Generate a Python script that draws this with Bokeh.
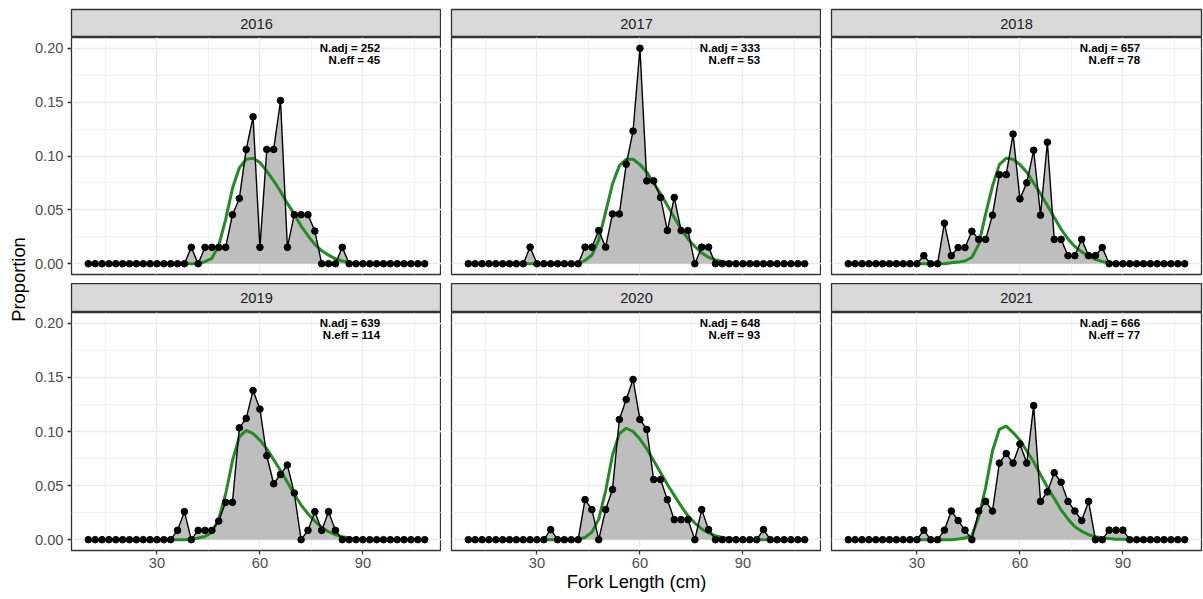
import numpy as np
from bokeh.plotting import figure
from bokeh.layouts import row, column
from bokeh.models import Range1d, FixedTicker, PrintfTickFormatter
from bokeh.core.properties import value
from bokeh.embed import file_html
from bokeh.resources import INLINE

# ---------------- data ----------------
lengths = [10, 12, 14, 16, 18, 20, 22, 24, 26, 28,
           30, 32, 34, 36, 38, 40, 42, 44, 46, 48,
           50, 52, 54, 56, 58, 60, 62, 64, 66, 68,
           70, 72, 74, 76, 78, 80, 82, 84, 86, 88,
           90, 92, 94, 96, 98, 100, 102, 104, 106, 108]

years = ["2016", "2017", "2018", "2019", "2020", "2021"]

obs_2016 = [0]*15 + [0.0152, 0, 0.0152, 0.0152, 0.0152, 0.0152,
            0.0455, 0.0606, 0.1061, 0.1364, 0.0152, 0.1061, 0.1061, 0.1515,
            0.0152, 0.0455, 0.0455, 0.0455, 0.0303, 0, 0, 0, 0.0152] + [0]*12
obs_2017 = [0]*9 + [0.0154] + [0]*7 + [0.0154, 0.0154, 0.0308, 0.0154, 0.0462,
            0.0462, 0.0923, 0.1231, 0.2000, 0.0769, 0.0769, 0.0615, 0.0308,
            0.0615, 0.0308, 0.0308, 0, 0.0154, 0.0154] + [0]*14
obs_2018 = [0]*11 + [0.0075, 0, 0, 0.0376, 0.0075, 0.0150, 0.0150, 0.0301,
            0.0226, 0.0226, 0.0451, 0.0827, 0.0827, 0.1203, 0.0602, 0.0752,
            0.1053, 0.0451, 0.1128, 0.0226, 0.0226, 0.0075, 0.0075, 0.0226,
            0.0075, 0.0075, 0.0150] + [0]*12
obs_2019 = [0]*13 + [0.0086, 0.0259, 0, 0.0086, 0.0086, 0.0086, 0.0172,
            0.0345, 0.0345, 0.1034, 0.1121, 0.1379, 0.1207, 0.0776, 0.0517,
            0.0603, 0.0690, 0.0431, 0, 0.0086, 0.0259, 0.0086, 0.0259,
            0.0086] + [0]*13
obs_2020 = [0]*12 + [0.0093] + [0]*4 + [0.0370, 0.0278, 0, 0.0278, 0.0463,
            0.1111, 0.1296, 0.1481, 0.1111, 0.1019, 0.0556, 0.0556, 0.0370,
            0.0185, 0.0185, 0.0185, 0, 0.0278, 0.0093] + [0]*7 + [0.0093] + [0]*6
obs_2021 = [0]*11 + [0.0088, 0, 0, 0.0088, 0.0265, 0.0177, 0.0088, 0,
            0.0265, 0.0354, 0.0265, 0.0708, 0.0796, 0.0708, 0.0885, 0.0708,
            0.1239, 0.0354, 0.0442, 0.0619, 0.0531, 0.0354, 0.0265, 0.0177,
            0.0354, 0, 0, 0.0088, 0.0088, 0.0088] + [0]*9

exp_2016 = [0]*17 + [0.002, 0.005, 0.017, 0.041, 0.070, 0.089, 0.097, 0.098,
            0.094, 0.086, 0.077, 0.067, 0.056, 0.046, 0.035, 0.026, 0.018,
            0.012, 0.008, 0.0045, 0.0025, 0.001, 0.0005] + [0]*10
exp_2017 = [0]*17 + [0.003, 0.008, 0.022, 0.048, 0.074, 0.091, 0.097, 0.097,
            0.092, 0.085, 0.075, 0.065, 0.054, 0.043, 0.032, 0.023, 0.016,
            0.010, 0.006, 0.0035, 0.002, 0.001, 0.0005] + [0]*10
exp_2018 = [0]*15 + [0.001, 0.0015, 0.0025, 0.006, 0.018, 0.046, 0.072,
            0.092, 0.098, 0.097, 0.092, 0.085, 0.075, 0.065, 0.054, 0.043,
            0.032, 0.023, 0.016, 0.011, 0.007, 0.004, 0.002, 0.001,
            0.0005] + [0]*10
exp_2019 = [0]*15 + [0.0005, 0.0015, 0.003, 0.007, 0.019, 0.042, 0.073,
            0.095, 0.101, 0.098, 0.092, 0.084, 0.074, 0.064, 0.053, 0.042,
            0.032, 0.024, 0.017, 0.0115, 0.0074, 0.0046, 0.0028, 0.0015,
            0.0006, 0.0002] + [0]*9
exp_2020 = [0]*16 + [0.0005, 0.002, 0.007, 0.019, 0.045, 0.078, 0.098,
            0.103, 0.100, 0.093, 0.084, 0.073, 0.062, 0.051, 0.041, 0.031,
            0.022, 0.0154, 0.0099, 0.0062, 0.0037, 0.002, 0.001,
            0.0005] + [0]*10
exp_2021 = [0]*16 + [0.0006, 0.0015, 0.004, 0.021, 0.048, 0.082, 0.102,
            0.105, 0.099, 0.092, 0.082, 0.072, 0.060, 0.0485, 0.038, 0.0275,
            0.019, 0.012, 0.0077, 0.0046, 0.0028, 0.0015, 0.001, 0.0005,
            0.0003] + [0]*9

n_adj = [252, 333, 657, 639, 648, 666]
n_eff = [45, 53, 78, 114, 93, 77]

x_ticks = [30, 60, 90]
x_minor = [15, 45, 75, 105]
y_ticks = [0.0, 0.05, 0.10, 0.15, 0.20]
y_minor = [0.025, 0.075, 0.125, 0.175]

obs_all = [obs_2016, obs_2017, obs_2018, obs_2019, obs_2020, obs_2021]
exp_all = [exp_2016, exp_2017, exp_2018, exp_2019, exp_2020, exp_2021]

# ---------------- style ----------------
FONT = "Liberation Sans"
FRAME_W = 370
BORDER = "#333333"
GRID = "#EBEBEB"


def make_strip(label, left, right, top, h):
    s = figure(frame_width=FRAME_W, frame_height=h,
               min_border_left=left, min_border_right=right,
               min_border_top=top, min_border_bottom=0,
               x_range=Range1d(0, 1), y_range=Range1d(0, 1),
               x_axis_location=None, y_axis_location=None,
               toolbar_location=None, output_backend="svg",
               background_fill_color="#D9D9D9", border_fill_color="white",
               outline_line_color=BORDER, outline_line_width=1.3)
    for g in s.grid:
        g.visible = False
    s.text(x=[0.5], y=[0.5], text=[label], text_align="center",
           text_baseline="middle", text_font=value(FONT),
           text_font_size="14.67px", text_color="#1A1A1A")
    return s


def make_panel(k, col, rowi):
    left = 41 if col == 0 else 10
    right = 2 if col == 2 else 0
    bottom = 9 if rowi == 0 else 49
    fh = 237 if rowi == 0 else 238
    p = figure(frame_width=FRAME_W, frame_height=fh,
               min_border_left=left, min_border_right=right,
               min_border_top=0, min_border_bottom=bottom,
               x_range=Range1d(5.1, 112.9), y_range=Range1d(-0.01, 0.21),
               x_axis_location="below" if rowi == 1 else None,
               y_axis_location="left" if col == 0 else None,
               toolbar_location=None, output_backend="svg",
               background_fill_color="white", border_fill_color="white",
               outline_line_color=BORDER, outline_line_width=1.3)
    p.xgrid.ticker = FixedTicker(ticks=x_ticks, minor_ticks=x_minor)
    p.ygrid.ticker = FixedTicker(ticks=y_ticks, minor_ticks=y_minor)
    for g in p.grid:
        g.grid_line_color = GRID
        g.grid_line_width = 1.3
        g.minor_grid_line_color = GRID
        g.minor_grid_line_width = 0.65

    def style_axis(ax):
        ax.axis_line_color = None
        ax.major_tick_out = 4
        ax.major_tick_in = 0
        ax.minor_tick_out = 0
        ax.minor_tick_in = 0
        ax.major_tick_line_color = BORDER
        ax.major_tick_line_width = 1.3
        ax.major_label_text_font = FONT
        ax.major_label_text_font_size = "14.67px"
        ax.major_label_text_color = "#4D4D4D"

    if rowi == 1:
        ax = p.xaxis[0]
        ax.ticker = FixedTicker(ticks=x_ticks)
        style_axis(ax)
        ax.major_label_standoff = 3
        if col == 1:
            ax.axis_label = "Fork Length (cm)"
            ax.axis_label_text_font = FONT
            ax.axis_label_text_font_size = "18.33px"
            ax.axis_label_text_font_style = "normal"
            ax.axis_label_text_color = "black"
            ax.axis_label_standoff = 0
    if col == 0:
        ay = p.yaxis[0]
        ay.ticker = FixedTicker(ticks=y_ticks)
        ay.formatter = PrintfTickFormatter(format="%.2f")
        style_axis(ay)
        ay.major_label_standoff = 4

    obs = obs_all[k]
    exp = exp_all[k]
    p.varea(x=lengths, y1=0, y2=obs, fill_color="#BEBEBE")
    p.line(lengths, exp, line_color="#228B22", line_width=3)
    p.line(lengths, obs, line_color="black", line_width=1.4)
    p.scatter(lengths, obs, marker="circle", size=6.6,
              fill_color="black", line_color="black")

    p.text(x=[95], y=[0.2], text=["N.adj = %d" % n_adj[k]],
           text_align="right", text_baseline="middle",
           text_font=value(FONT), text_font_style="bold",
           text_font_size="11.5px", text_color="black")
    p.text(x=[95], y=[0.1888], text=["N.eff = %d" % n_eff[k]],
           text_align="right", text_baseline="middle",
           text_font=value(FONT), text_font_style="bold",
           text_font_size="11.5px", text_color="black")
    return p


rows_layout = []
for r in range(2):
    strips = []
    panels = []
    for c in range(3):
        k = r * 3 + c
        left = 41 if c == 0 else 10
        right = 2 if c == 2 else 0
        top = 9 if r == 0 else 0
        h = 28 if r == 0 else 29
        strips.append(make_strip(years[k], left, right, top, h))
        panels.append(make_panel(k, c, r))
    rows_layout.append(row(*strips))
    rows_layout.append(row(*panels))

grid = column(*rows_layout)

ylab = figure(width=30, height=599, min_border=0,
              x_range=Range1d(0, 30), y_range=Range1d(0, 599),
              x_axis_location=None, y_axis_location=None,
              toolbar_location=None, output_backend="svg",
              outline_line_color=None, background_fill_color="white",
              border_fill_color="white")
for g in ylab.grid:
    g.visible = False
ylab.text(x=[18], y=[320], text=["Proportion"], angle=np.pi / 2,
          text_align="center", text_baseline="middle",
          text_font=value(FONT), text_font_size="18.33px",
          text_color="black")

layout = row(ylab, grid)

open("out.html", "w").write(file_html(layout, INLINE, "Length compositions"))
